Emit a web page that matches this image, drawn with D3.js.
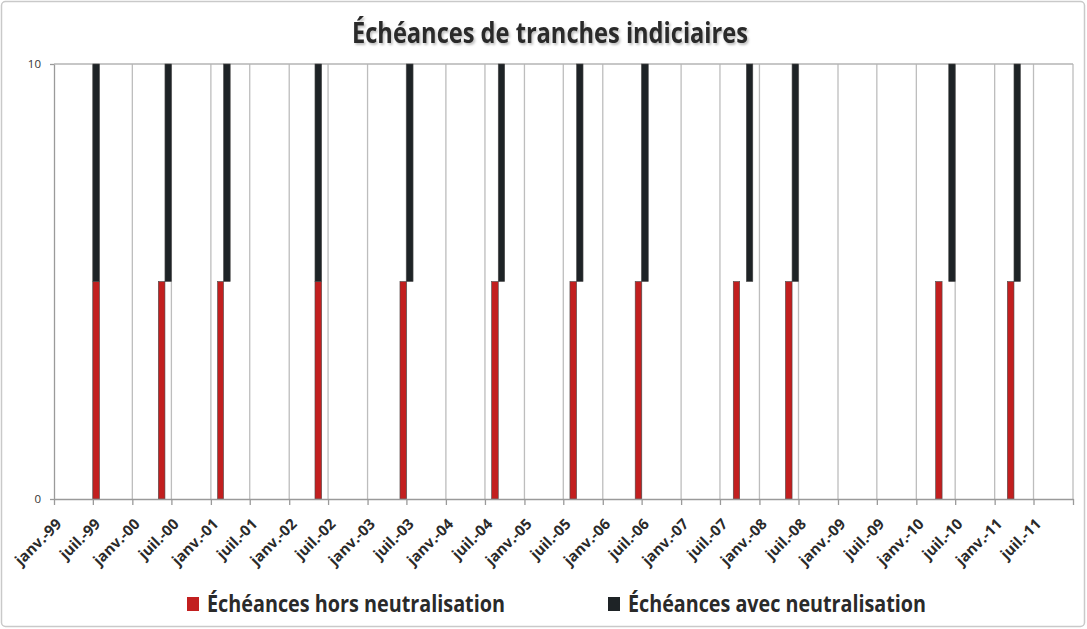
<!DOCTYPE html>
<html>
<head>
<meta charset="utf-8">
<script src="https://cdn.jsdelivr.net/npm/d3@7"></script>
<style>
  html, body { margin: 0; padding: 0; background: #fff; }
  svg { display: block; }
  .axis text { font-family: "Open Sans", sans-serif; }
</style>
</head>
<body>
<svg id="chart" width="1087" height="629"></svg>
<script>
var title = 'Échéances de tranches indiciaires';
var seriesNames = [ 'Échéances hors neutralisation', 'Échéances avec neutralisation' ];

// months of each maturity (one bar = one month)
var horsMonths = [ '1999-07', '2000-05', '2001-02', '2002-05', '2003-06', '2004-08',
  '2005-08', '2006-06', '2007-09', '2008-05', '2010-04', '2011-03' ];
var avecMonths = [ '1999-07', '2000-06', '2001-03', '2002-05', '2003-07', '2004-09',
  '2005-09', '2006-07', '2007-11', '2008-06', '2010-06', '2011-04' ];

// value band of each series
var horsRange = [ 0, 5 ];
var avecRange = [ 5, 10 ];

var yTicks = [ 0, 10 ];
var tickLabels = [ 'janv.-99', 'juil.-99', 'janv.-00', 'juil.-00', 'janv.-01', 'juil.-01',
  'janv.-02', 'juil.-02', 'janv.-03', 'juil.-03', 'janv.-04', 'juil.-04', 'janv.-05',
  'juil.-05', 'janv.-06', 'juil.-06', 'janv.-07', 'juil.-07', 'janv.-08', 'juil.-08',
  'janv.-09', 'juil.-09', 'janv.-10', 'juil.-10', 'janv.-11', 'juil.-11', '' ];

var colors = { hors: '#c21f1f', avec: '#1e2326' };

var parseMonth = d3.timeParse('%Y-%m');
var svg = d3.select('#chart');

var margin = { left: 54, right: 1073, top: 64, bottom: 499 };

var x = d3.scaleTime()
  .domain([ new Date(1999, 0, 1), new Date(2012, 0, 1) ])
  .range([ margin.left, margin.right ]);

var y = d3.scaleLinear()
  .domain([ 0, 10 ])
  .range([ margin.bottom, margin.top ]);

var tickDates = d3.timeMonth.every(6).range(new Date(1999, 0, 1), new Date(2012, 0, 2));

// outer frame
svg.append('rect')
  .attr('x', 1.5)
  .attr('y', 1.5)
  .attr('width', 1083)
  .attr('height', 625)
  .attr('rx', 4)
  .attr('fill', '#fff')
  .attr('stroke', '#c9c9c9')
  .attr('stroke-width', 1.5);

// title with light shadow
var defs = svg.append('defs');
var shadow = defs.append('filter').attr('id', 'shadow')
  .attr('x', '-5%').attr('y', '-20%').attr('width', '110%').attr('height', '160%');
shadow.append('feDropShadow')
  .attr('dx', 1.5).attr('dy', 2).attr('stdDeviation', 1.2)
  .attr('flood-color', '#000').attr('flood-opacity', 0.25);

svg.append('text')
  .attr('x', 550)
  .attr('y', 43)
  .attr('text-anchor', 'middle')
  .attr('font-family', '"Open Sans", sans-serif')
  .attr('font-weight', 'bold')
  .attr('font-size', 28)
  .attr('textLength', 396)
  .attr('lengthAdjust', 'spacingAndGlyphs')
  .attr('fill', '#2a2a2a')
  .attr('filter', 'url(#shadow)')
  .text(title);

// vertical gridlines
svg.append('g')
  .selectAll('line')
  .data(tickDates.slice(1))
  .enter().append('line')
  .attr('x1', function(d) { return x(d); })
  .attr('x2', function(d) { return x(d); })
  .attr('y1', y(10))
  .attr('y2', y(0))
  .attr('stroke', '#bdbdbd')
  .attr('stroke-width', 1.3);

// top line at 10
svg.append('line')
  .attr('x1', margin.left)
  .attr('x2', margin.right)
  .attr('y1', y(10))
  .attr('y2', y(10))
  .attr('stroke', '#b5b5b5')
  .attr('stroke-width', 1.3);

// bars
function drawSeries(months, range, color) {
  svg.append('g')
    .selectAll('rect')
    .data(months)
    .enter().append('rect')
    .attr('x', function(d) { return x(parseMonth(d)); })
    .attr('width', function(d) {
      var start = parseMonth(d);
      return x(d3.timeMonth.offset(start, 1)) - x(start);
    })
    .attr('y', y(range[1]))
    .attr('height', y(range[0]) - y(range[1]))
    .attr('fill', color)
    .attr('stroke', '#4a4a4a')
    .attr('stroke-width', 0.6);
}
drawSeries(horsMonths, horsRange, colors.hors);
drawSeries(avecMonths, avecRange, colors.avec);

// x axis
var xAxis = d3.axisBottom(x)
  .tickValues(tickDates)
  .tickSize(6)
  .tickSizeOuter(0)
  .tickFormat(function(d, i) { return tickLabels[i]; });

var gx = svg.append('g')
  .attr('class', 'axis')
  .attr('transform', 'translate(0,' + y(0) + ')')
  .call(xAxis);
gx.select('.domain').attr('stroke', '#9a9a9a').attr('stroke-width', 1.3);
gx.selectAll('.tick line').attr('stroke', '#9a9a9a').attr('stroke-width', 1.3);
gx.selectAll('.tick text')
  .attr('font-size', 15)
  .attr('font-weight', 'bold')
  .attr('fill', '#2a2a2a')
  .attr('text-anchor', 'end')
  .attr('dy', null)
  .attr('y', 0)
  .attr('transform', 'translate(8,26) rotate(-45)');

// y axis
var yAxis = d3.axisLeft(y)
  .tickValues(yTicks)
  .tickSize(4)
  .tickSizeOuter(0)
  .tickPadding(9);

var gy = svg.append('g')
  .attr('class', 'axis')
  .attr('transform', 'translate(' + margin.left + ',0)')
  .call(yAxis);
gy.select('.domain').attr('stroke', '#9a9a9a').attr('stroke-width', 1.3);
gy.selectAll('.tick line').attr('stroke', '#9a9a9a').attr('stroke-width', 1.3);
gy.selectAll('.tick text')
  .attr('font-size', 11.5)
  .attr('fill', '#333');

// legend
var legendPos = [ 187, 608 ];
var legend = svg.append('g')
  .selectAll('g')
  .data(seriesNames)
  .enter().append('g')
  .attr('transform', function(d, i) { return 'translate(' + legendPos[i] + ',597)'; });

legend.append('rect')
  .attr('width', 12)
  .attr('height', 14)
  .attr('fill', function(d, i) { return i === 0 ? colors.hors : colors.avec; });

legend.append('text')
  .attr('x', 20)
  .attr('y', 15)
  .attr('font-family', '"Open Sans", sans-serif')
  .attr('font-weight', 'bold')
  .attr('font-size', 22.5)
  .attr('textLength', 298)
  .attr('lengthAdjust', 'spacingAndGlyphs')
  .attr('fill', '#2a2a2a')
  .text(function(d) { return d; });
</script>
</body>
</html>
